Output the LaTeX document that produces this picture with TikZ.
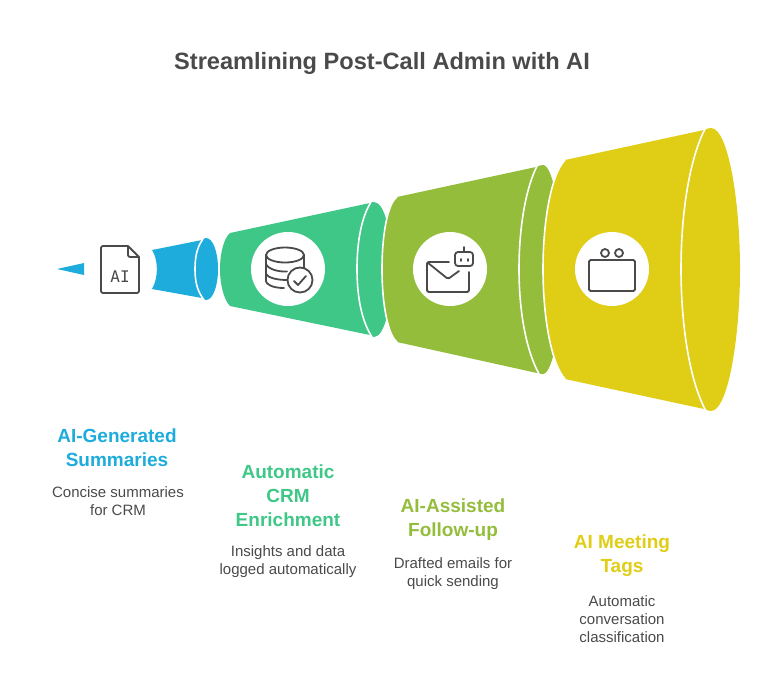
\documentclass[tikz,border=0pt]{standalone}
\usepackage{fontspec}
\setmainfont{Liberation Sans}
\newfontfamily\iconmono{DejaVu Sans Mono}
\definecolor{inkgray}{HTML}{4A4A4A}
\definecolor{coneblue}{HTML}{1DACDC}
\definecolor{conegreen}{HTML}{3EC786}
\definecolor{coneolive}{HTML}{93BD3A}
\definecolor{coneyellow}{HTML}{E0CD15}
\begin{document}
\begin{tikzpicture}[x=1pt,y=-1pt,
  titletext/.style={text=inkgray, font=\fontsize{23.6}{28}\selectfont\bfseries, align=center},
  heading/.style={font=\fontsize{19}{24}\selectfont\bfseries, align=center},
  desc/.style={text=inkgray, font=\fontsize{15}{18}\selectfont, align=center},
  iconback/.style={circle, fill=white, minimum size=74pt, inner sep=0pt},
  icon/.style={draw=inkgray, line width=1.8pt, line join=round, line cap=round},
  rimline/.style={draw=white, line width=1.6pt}]
  \useasboundingbox (0,0) rectangle (765,681);
  \node [titletext] (title) at (382,63) {Streamlining Post-Call Admin with AI};
  % blue part
  \fill [coneblue] (57,269) -- (84,263) -- (84,275) -- cycle;
  \fill [coneblue] (152,250) -- (202,240) .. controls (203,239) and (205,238) .. (206,238)
    .. controls (213,238) and (218,252) .. (218,269) .. controls (218,286) and (213,300) .. (206,300)
    .. controls (205,300) and (203,299) .. (202,298) -- (152,289)
    .. controls (158.5,278) and (158.5,260) .. (152,250) -- cycle;
  \draw [rimline] (203,239) .. controls (197,247) and (195,257) .. (195,269) .. controls (195,281) and (197,291) .. (204,300);
  % green part
  \fill [conegreen] (230,233) -- (370,203) .. controls (371,202) and (373,202) .. (374,202)
    .. controls (385,202) and (392,235) .. (392,269) .. controls (392,303) and (385,337) .. (374,337)
    .. controls (373,337) and (371,336) .. (370,335) -- (230,306)
    .. controls (224,300) and (220,285) .. (220,269) .. controls (220,253) and (224,238) .. (230,233) -- cycle;
  \draw [rimline] (371,202) .. controls (361,218) and (357,243) .. (357,269) .. controls (357,295) and (361,320) .. (372,337);
  \node [iconback] (crmback) at (288,269) {};
  % olive part
  \fill [coneolive] (397,197) -- (536,167) .. controls (538,166) and (541,165) .. (543,165)
    .. controls (553,165) and (562,215) .. (562,269) .. controls (562,323) and (553,374) .. (543,374)
    .. controls (541,374) and (539,374) .. (537,373) -- (397,342)
    .. controls (388,335) and (382,305) .. (382,269) .. controls (382,233) and (388,203) .. (397,197) -- cycle;
  \draw [rimline] (397,197) .. controls (388,203) and (382,233) .. (382,269) .. controls (382,305) and (388,335) .. (397,342);
  \draw [rimline] (537,166) .. controls (525,190) and (519,230) .. (519,269) .. controls (519,308) and (525,348) .. (539,374);
  \node [iconback] (mailback) at (450,269) {};
  % yellow part
  \fill [coneyellow] (565,160) -- (704,130) .. controls (706,129) and (709,128) .. (711,128)
    .. controls (728,128) and (740,200) .. (740,269) .. controls (740,338) and (728,411) .. (711,411)
    .. controls (709,411) and (706,410) .. (704,409) -- (565,379)
    .. controls (552,365) and (543,320) .. (543,269) .. controls (543,218) and (552,173) .. (565,160) -- cycle;
  \draw [rimline] (565,160) .. controls (552,173) and (543,218) .. (543,269) .. controls (543,320) and (552,365) .. (565,379);
  \draw [rimline] (705,129) .. controls (689,160) and (681,215) .. (681,269) .. controls (681,323) and (689,380) .. (706,411);
  \node [iconback] (tagback) at (612,269) {};
  % document icon
  \draw [icon] (128,246) -- (103,246) .. controls (102,246) and (101,247) .. (101,248) -- (101,291)
    .. controls (101,292) and (102,293) .. (103,293) -- (137,293) .. controls (138,293) and (139,292) .. (139,291)
    -- (139,257) -- (128,246) -- (128,255) .. controls (128,256) and (129,257) .. (130,257) -- (139,257);
  \node [text=inkgray, font=\fontsize{16}{16}\iconmono\selectfont] (aitext) at (120,277) {AI};
  % database icon
  \draw [icon] (285,255) ellipse [x radius=19, y radius=7.5];
  \draw [icon] (266,255) -- (266,281) .. controls (266,284) and (272,288) .. (284,288);
  \draw [icon] (304,255) -- (304,268);
  \draw [icon] (266,264) .. controls (268,269) and (278,272) .. (287,271.5);
  \draw [icon] (266,274) .. controls (268,278) and (278,280) .. (287,280);
  \draw [icon] (300,280) circle [radius=12.5];
  \draw [icon] (294,281) -- (298,285) -- (306,276);
  % mail icon
  \draw [icon, rounded corners=1.5pt] (449,262) -- (427,262) -- (427,292) -- (469,292) -- (469,272);
  \draw [icon, rounded corners=1.5pt] (427.5,262.5) -- (448,279) -- (459,271);
  \draw [icon, rounded corners=3pt] (455,252) rectangle (473,266);
  \draw [icon] (464,252) -- (464,247);
  \draw [icon] (461,259) -- (461,261);
  \draw [icon] (468,259) -- (468,261);
  % tag icon
  \draw [icon, rounded corners=1.5pt] (589,260) rectangle (635,291);
  \draw [icon] (605,253) circle [radius=4];
  \draw [icon] (619,253) circle [radius=4];
  % labels
  \node [heading, text=coneblue] (summhead) at (117,448) {AI-Generated\\Summaries};
  \node [desc] (summdesc) at (118,501) {Concise summaries\\for CRM};
  \node [heading, text=conegreen] (crmhead) at (288,496) {Automatic\\CRM\\Enrichment};
  \node [desc] (crmdesc) at (288,562) {Insights and data\\logged automatically};
  \node [heading, text=coneolive] (mailhead) at (453,520) {AI-Assisted\\Follow-up};
  \node [desc] (maildesc) at (453,574) {Drafted emails for\\quick sending};
  \node [heading, text=coneyellow] (taghead) at (622,556) {AI Meeting\\Tags};
  \node [desc] (tagdesc) at (622,619) {Automatic\\conversation\\classification};
\end{tikzpicture}
\end{document}
